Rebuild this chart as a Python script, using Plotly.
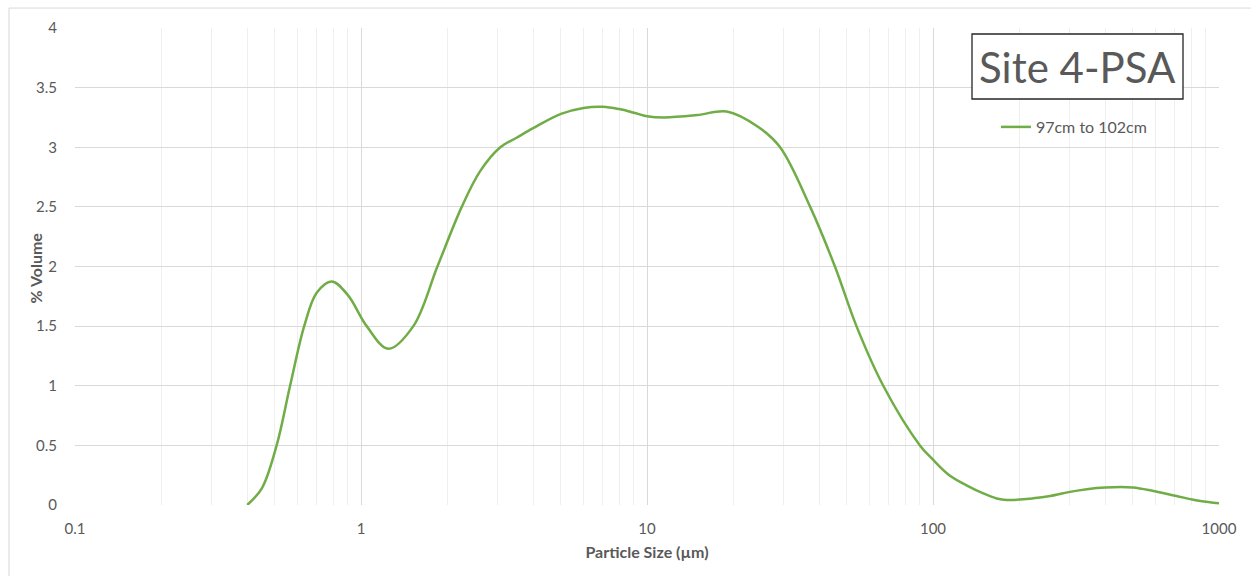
import plotly.graph_objects as go

# Particle size (µm) and % volume
size_um = [0.40, 0.45, 0.507, 0.565, 0.633, 0.70, 0.79, 0.90, 1.047,
           1.246, 1.524, 1.85, 2.25, 2.61, 3.07, 3.5, 4.0, 5.0, 6.0, 7.0,
           8.0, 9.0, 10.0, 11.5, 15.0, 19.0, 24.5, 29.2, 37.2, 45.4, 54.0,
           67.0, 90.0, 100.0, 114.0, 131.0, 150.0, 167.0, 181.0,
           224.0, 257.0, 301.0, 345.0, 400.0, 500.0, 590.0, 710.0, 860.0, 1000.0]
volume_pct = [0.0, 0.14, 0.5, 1.0, 1.5, 1.78, 1.875, 1.76, 1.5,
              1.31, 1.5, 2.0, 2.5, 2.80, 3.0, 3.08, 3.16, 3.28, 3.33, 3.34,
              3.32, 3.29, 3.26, 3.25, 3.27, 3.30, 3.17, 3.0, 2.5, 2.0, 1.5,
              1.0, 0.5, 0.38, 0.25, 0.165, 0.097, 0.055, 0.042,
              0.056, 0.075, 0.11, 0.133, 0.147, 0.147, 0.117, 0.075, 0.033, 0.014]
series_name = "97cm to 102cm"
chart_title = "Site 4-PSA"

x_major = [0.1, 1, 10, 100, 1000]
x_major_text = ["0.1", "1", "10", "100", "1000"]
x_minor = [m * d for d in [0.1, 1, 10, 100] for m in range(2, 10)]
y_ticks = [0, 0.5, 1, 1.5, 2, 2.5, 3, 3.5, 4]
y_text = ["0", "0.5", "1", "1.5", "2", "2.5", "3", "3.5", "4"]

GREEN = "#70ad47"
TXT = "#595959"
FONT = "Lato, 'Open Sans', sans-serif"

fig = go.Figure()
fig.add_trace(go.Scatter(
    x=size_um, y=volume_pct, mode="lines", name=series_name,
    line=dict(color=GREEN, width=2.5, shape="spline", smoothing=1.0),
    showlegend=True,
))

fig.update_layout(
    width=1251, height=576,
    margin=dict(l=75, r=32, t=28, b=71),
    paper_bgcolor="white", plot_bgcolor="white",
    font=dict(family=FONT, color=TXT, size=15),
    showlegend=True,
    legend=dict(x=0.805, y=(505 - 127) / 477, xanchor="left", yanchor="middle",
                bgcolor="rgba(0,0,0,0)", font=dict(size=16, color=TXT, family=FONT),
                itemwidth=30),
    xaxis=dict(
        type="log", range=[-1, 3],
        tickmode="array", tickvals=x_major, ticktext=x_major_text,
        showgrid=True, gridcolor="#d9d9d9", gridwidth=1,
        minor=dict(tickmode="array", tickvals=x_minor, showgrid=True,
                   gridcolor="#efefef", gridwidth=1),
        showline=False, zeroline=False, ticks="",
        ticklabelstandoff=13,
        tickfont=dict(size=15, color=TXT),
        title=dict(text="<b>Particle Size (µm)</b>", font=dict(size=16, color=TXT), standoff=10),
    ),
    yaxis=dict(
        range=[0, 4], tickmode="array", tickvals=y_ticks, ticktext=y_text,
        showgrid=True, gridcolor="#d9d9d9", gridwidth=1,
        showline=False, zeroline=False, ticks="",
        ticklabelstandoff=17,
        tickfont=dict(size=15, color=TXT),
    ),
    shapes=[
        # outer chart frame
        dict(type="rect", xref="paper", yref="paper",
             x0=-0.0577, x1=1.2, y0=-0.3, y1=1.0418,
             line=dict(color="#d9d9d9", width=1), fillcolor="rgba(0,0,0,0)", layer="below"),
        # title box
        dict(type="rect", xref="paper", yref="paper",
             x0=(972 - 75) / 1144, x1=(1183 - 75) / 1144,
             y0=(505 - 99) / 477, y1=(505 - 34) / 477,
             line=dict(color="#262626", width=1.3), fillcolor="white", layer="above"),
    ],
    annotations=[
        dict(text=chart_title, xref="paper", yref="paper",
             x=(1077.5 - 75) / 1144, y=(505 - 66.5) / 477,
             xanchor="center", yanchor="middle", showarrow=False,
             font=dict(size=42, color=TXT, family=FONT)),
        dict(text="<b>% Volume</b>", xref="paper", yref="paper",
             x=(34.5 - 75) / 1144, y=(505 - 268) / 477,
             xanchor="center", yanchor="middle", showarrow=False, textangle=-90,
             font=dict(size=16, color=TXT, family=FONT)),
    ],
)

fig.write_html("out.html")
